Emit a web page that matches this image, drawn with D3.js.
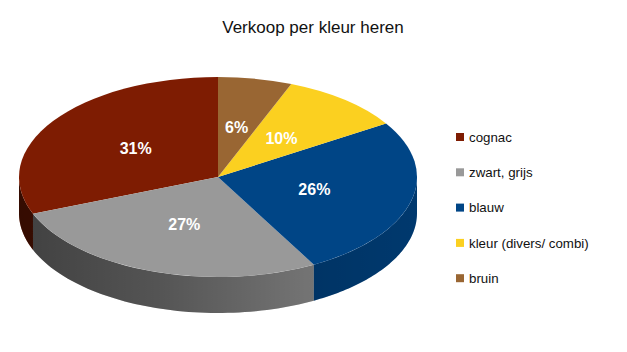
<!DOCTYPE html>
<html>
<head>
<meta charset="utf-8">
<script src="https://cdn.jsdelivr.net/npm/d3@7"></script>
<style>
  body { margin: 0; background: #fff; }
  svg { display: block; font-family: 'Liberation Sans', Arial, sans-serif; }
</style>
</head>
<body>
<svg id="chart" width="627" height="352"></svg>
<script>
const title = 'Verkoop per kleur heren';
const categories = ['cognac', 'zwart, grijs', 'blauw', 'kleur (divers/ combi)', 'bruin'];
const values = [31, 27, 26, 10, 6];
const colors = ['#7e1c02', '#999999', '#004586', '#fbd020', '#996633'];

const width = 627;
const height = 352;
const cx = 218;
const cy = 177;
const rx = 199;
const ry = 100;
const depth = 36;

const data = categories.map((c, i) => ({ name: c, value: values[i], color: colors[i] }));
const total = d3.sum(values);

const svg = d3.select('#chart');

svg.append('text')
  .attr('x', 313)
  .attr('y', 33)
  .attr('text-anchor', 'middle')
  .attr('font-size', 17)
  .attr('fill', '#111')
  .text(title);

// slices go counter-clockwise from 12 o'clock
const pie = d3.pie()
  .value((d) => d.value)
  .sort(null)
  .startAngle(0)
  .endAngle(-2 * Math.PI);
const arcs = pie(data);

const pt = (a, dy = 0) => [cx + rx * Math.sin(a), cy - ry * Math.cos(a) + dy];

const defs = svg.append('defs');
const grad = defs.append('linearGradient')
  .attr('id', 'sideShade')
  .attr('gradientUnits', 'userSpaceOnUse')
  .attr('x1', cx - rx).attr('x2', cx + rx)
  .attr('y1', 0).attr('y2', 0);
[[0, 0.58], [0.35, 0.45], [0.72, 0.25], [1, 0.18]].forEach(([o, a]) => {
  grad.append('stop').attr('offset', o).attr('stop-color', '#000').attr('stop-opacity', a);
});

// front side wall: visible between -3PI/2 and -PI/2
const frontLo = -1.5 * Math.PI;
const frontHi = -0.5 * Math.PI;

function sidePath(a0, a1) {
  const lo = Math.max(Math.min(a0, a1), frontLo);
  const hi = Math.min(Math.max(a0, a1), frontHi);
  if (hi <= lo) return null;
  const steps = d3.range(0, 61).map((k) => lo + (hi - lo) * k / 60);
  const top = steps.map((a) => pt(a));
  const bottom = steps.slice().reverse().map((a) => pt(a, depth));
  return d3.line()(top.concat(bottom)) + 'Z';
}

const sides = svg.append('g');
arcs.forEach((d) => {
  const p = sidePath(d.startAngle, d.endAngle);
  if (!p) return;
  sides.append('path').attr('d', p).attr('fill', d.data.color);
  sides.append('path').attr('d', p).attr('fill', 'url(#sideShade)');
});

const arc = d3.arc().innerRadius(0).outerRadius(rx);
svg.append('g')
  .attr('transform', `translate(${cx},${cy}) scale(1,${ry / rx})`)
  .selectAll('path')
  .data(arcs)
  .join('path')
  .attr('d', arc)
  .attr('fill', (d) => d.data.color);

const fmt = d3.format('.0%');
svg.append('g')
  .selectAll('text')
  .data(arcs)
  .join('text')
  .attr('x', (d) => cx + 0.5 * rx * Math.sin((d.startAngle + d.endAngle) / 2))
  .attr('y', (d) => cy - 0.5 * ry * Math.cos((d.startAngle + d.endAngle) / 2))
  .attr('dy', '0.35em')
  .attr('text-anchor', 'middle')
  .attr('font-size', 16)
  .attr('font-weight', 'bold')
  .attr('fill', '#fff')
  .text((d) => fmt(d.data.value / total));

const legend = svg.append('g')
  .selectAll('g')
  .data(data)
  .join('g')
  .attr('transform', (d, i) => `translate(456,${137 + i * 35.3})`);
legend.append('rect')
  .attr('x', 0).attr('y', -4)
  .attr('width', 8).attr('height', 8)
  .attr('fill', (d) => d.color);
legend.append('text')
  .attr('x', 13)
  .attr('dy', '0.35em')
  .attr('font-size', 13.3)
  .attr('fill', '#111')
  .text((d) => d.name);
</script>
</body>
</html>
